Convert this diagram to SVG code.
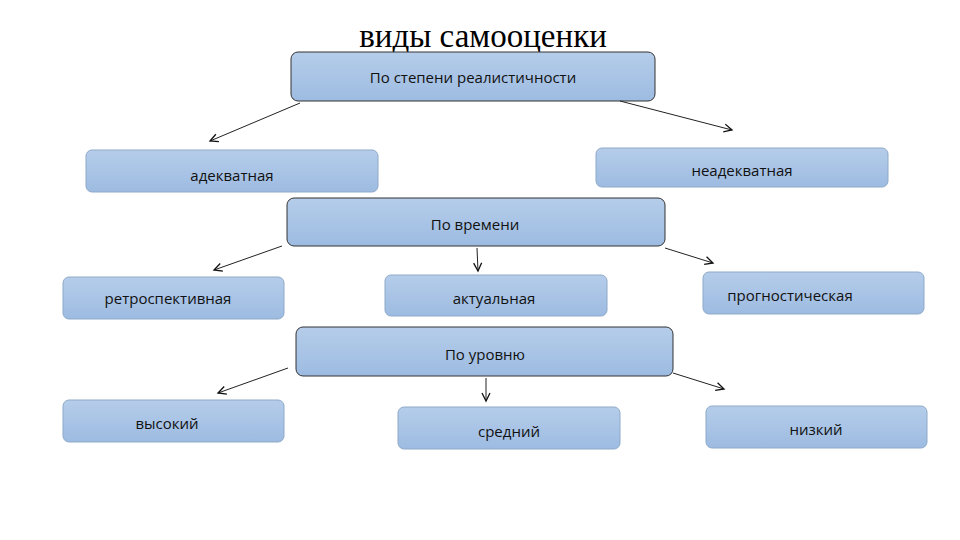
<svg xmlns="http://www.w3.org/2000/svg" width="960" height="540" viewBox="0 0 960 540">
<defs>
<linearGradient id="g" x1="0" y1="0" x2="0" y2="1">
<stop offset="0" stop-color="#b5cdea"/>
<stop offset="1" stop-color="#9dbbe1"/>
</linearGradient>
<marker id="a" markerWidth="12" markerHeight="12" refX="10" refY="5" orient="auto" markerUnits="userSpaceOnUse">
<polyline points="2,1 10,5 2,9" fill="none" stroke="#111" stroke-width="1.3"/>
</marker>
<style>
.cat{fill:url(#g);stroke:#333;stroke-width:1}
.leaf{fill:url(#g);stroke:#8ea9c8;stroke-width:1}
.t{font-family:"Open Sans","DejaVu Sans",sans-serif;font-size:15px;fill:#111;text-anchor:middle}
.c line{stroke:#222;stroke-width:1;marker-end:url(#a)}
</style>
</defs>
<rect width="960" height="540" fill="#fff"/>
<text x="483" y="47" font-family="Liberation Serif, serif" font-size="33" text-anchor="middle" fill="#000">виды самооценки</text>
<g id="n1"><rect class="cat" x="291" y="52" width="364" height="49" rx="7"/><text class="t" x="473" y="83">По степени реалистичности</text></g>
<g id="n2"><rect class="leaf" x="86" y="150" width="292" height="42" rx="6"/><text class="t" x="232" y="181">адекватная</text></g>
<g id="n3"><rect class="leaf" x="596" y="148" width="292" height="39" rx="6"/><text class="t" x="742" y="176">неадекватная</text></g>
<g id="n4"><rect class="cat" x="287" y="198" width="378" height="48" rx="7"/><text class="t" x="475" y="230">По времени</text></g>
<g id="n5"><rect class="leaf" x="63" y="277" width="221" height="42" rx="6"/><text class="t" x="168" y="304">ретроспективная</text></g>
<g id="n6"><rect class="leaf" x="385" y="275" width="222" height="41" rx="6"/><text class="t" x="494" y="304">актуальная</text></g>
<g id="n7"><rect class="leaf" x="703" y="272" width="221" height="42" rx="6"/><text class="t" x="790" y="301">прогностическая</text></g>
<g id="n8"><rect class="cat" x="296" y="327" width="377" height="49" rx="7"/><text class="t" x="485" y="360">По уровню</text></g>
<g id="n9"><rect class="leaf" x="63" y="400" width="221" height="42" rx="6"/><text class="t" x="167" y="429">высокий</text></g>
<g id="n10"><rect class="leaf" x="398" y="407" width="222" height="42" rx="6"/><text class="t" x="509" y="437">средний</text></g>
<g id="n11"><rect class="leaf" x="706" y="406" width="221" height="42" rx="6"/><text class="t" x="816" y="435">низкий</text></g>
<g id="connectors" class="c">
<line x1="300" y1="103" x2="210" y2="141"/>
<line x1="620" y1="101" x2="732" y2="130"/>
<line x1="282" y1="246" x2="214" y2="270"/>
<line x1="477" y1="248" x2="478" y2="271"/>
<line x1="665" y1="248" x2="713" y2="263"/>
<line x1="288" y1="368" x2="218" y2="393"/>
<line x1="486" y1="378" x2="486" y2="401"/>
<line x1="673" y1="373" x2="724" y2="389"/>
</g>
</svg>
